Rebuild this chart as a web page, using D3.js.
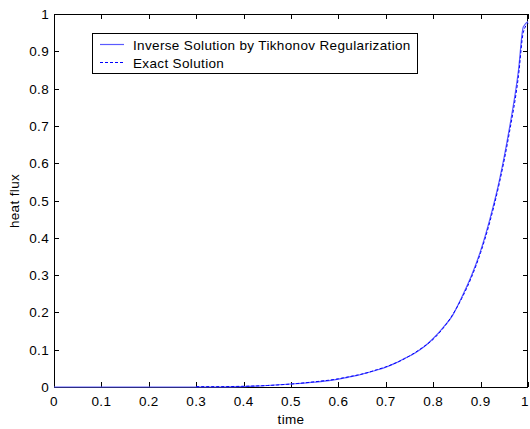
<!DOCTYPE html>
<html><head><meta charset="utf-8">
<script src="https://cdn.jsdelivr.net/npm/d3@7"></script>
<style>body{margin:0;background:#fff}svg{display:block}text{font-family:"Liberation Sans",Arial,sans-serif;letter-spacing:0.35px}</style>
</head><body><svg id="c" width="530" height="429"></svg>
<script>
// Data
const exactTime = [0.30,0.35,0.40,0.45,0.50,0.55,0.60,0.62,0.64,0.66,0.68,0.70,0.72,0.74,0.76,0.78,0.80,0.82,0.84,0.86,0.88,0.90,0.92,0.94,0.96,0.98,0.99,1.00];
const exactFlux = [0.001,0.001,0.002,0.004,0.008,0.014,0.022,0.027,0.032,0.038,0.046,0.054,0.064,0.076,0.091,0.108,0.128,0.156,0.192,0.237,0.292,0.360,0.445,0.549,0.677,0.835,0.950,0.975];
const inverseTime = [0.00,0.10,0.20,0.30,0.35,0.40,0.45,0.50,0.55,0.60,0.62,0.64,0.66,0.68,0.70,0.72,0.74,0.76,0.78,0.80,0.82,0.84,0.86,0.88,0.90,0.92,0.94,0.96,0.98,0.99,1.00];
const inverseFlux = [0.000,0.000,0.000,0.000,0.000,0.001,0.004,0.008,0.013,0.021,0.026,0.031,0.038,0.045,0.053,0.064,0.077,0.090,0.107,0.130,0.158,0.190,0.240,0.296,0.365,0.452,0.556,0.688,0.850,0.965,0.980];
const xTicks = [0,0.1,0.2,0.3,0.4,0.5,0.6,0.7,0.8,0.9,1];
const yTicks = [0,0.1,0.2,0.3,0.4,0.5,0.6,0.7,0.8,0.9,1];
const legendLabels = ["Inverse Solution by Tikhonov Regularization","Exact Solution"];

const svg = d3.select("#c");
const L=54, R=528, T=14, B=387;
const FS=13.5;
const x = d3.scaleLinear().domain([0,1]).range([L,R]);
const y = d3.scaleLinear().domain([0,1]).range([B,T]);
const fmt = d => d===0?"0":(d===1?"1":String(d));

// box
svg.append("rect").attr("x",L+0.5).attr("y",T+0.5).attr("width",R-L-1).attr("height",B-T).attr("fill","none").attr("stroke","#000");

// ticks
const tl=5;
xTicks.forEach(t=>{
  const px=Math.round(x(t))+0.5;
  svg.append("line").attr("x1",px).attr("x2",px).attr("y1",B).attr("y2",B-tl).attr("stroke","#000");
  svg.append("line").attr("x1",px).attr("x2",px).attr("y1",T).attr("y2",T+tl).attr("stroke","#000");
  svg.append("text").attr("x",Math.min(x(t),525)).attr("y",406).attr("text-anchor","middle").attr("font-size",FS).text(fmt(t));
});
yTicks.forEach(t=>{
  const py=Math.round(y(t))+0.5;
  svg.append("line").attr("x1",L).attr("x2",L+tl).attr("y1",py).attr("y2",py).attr("stroke","#000");
  svg.append("line").attr("x1",R).attr("x2",R-tl).attr("y1",py).attr("y2",py).attr("stroke","#000");
  svg.append("text").attr("x",49).attr("y",y(t)+5).attr("text-anchor","end").attr("font-size",FS).text(fmt(t));
});

svg.append("text").attr("x",x(0.5)).attr("y",424).attr("text-anchor","middle").attr("font-size",FS).text("time");
svg.append("text").attr("transform","translate(19,201) rotate(-90)").attr("text-anchor","middle").attr("font-size",FS).text("heat flux");

const line = d3.line().x(d=>x(d[0])).y(d=>y(d[1])).curve(d3.curveMonotoneX);
svg.append("path").datum(inverseTime.map((t,i)=>[t,inverseFlux[i]])).attr("d",line)
  .attr("fill","none").attr("stroke","#5a5aff").attr("stroke-width",1.2);
svg.append("path").datum(exactTime.map((t,i)=>[t,exactFlux[i]])).attr("d",line)
  .attr("fill","none").attr("stroke","#0000ff").attr("stroke-width",1).attr("stroke-dasharray","3,2");

// legend
svg.append("rect").attr("x",92.5).attr("y",33.5).attr("width",325).attr("height",40).attr("fill","#fff").attr("stroke","#000");
svg.append("line").attr("x1",100).attr("x2",124).attr("y1",44.5).attr("y2",44.5).attr("stroke","#5a5aff").attr("stroke-width",1.2);
svg.append("line").attr("x1",100).attr("x2",124).attr("y1",62.5).attr("y2",62.5).attr("stroke","#0000ff").attr("stroke-dasharray","3,2");
svg.append("text").attr("x",133).attr("y",49.5).attr("font-size",FS).text(legendLabels[0]);
svg.append("text").attr("x",133).attr("y",67.5).attr("font-size",FS).text(legendLabels[1]);
</script></body></html>
